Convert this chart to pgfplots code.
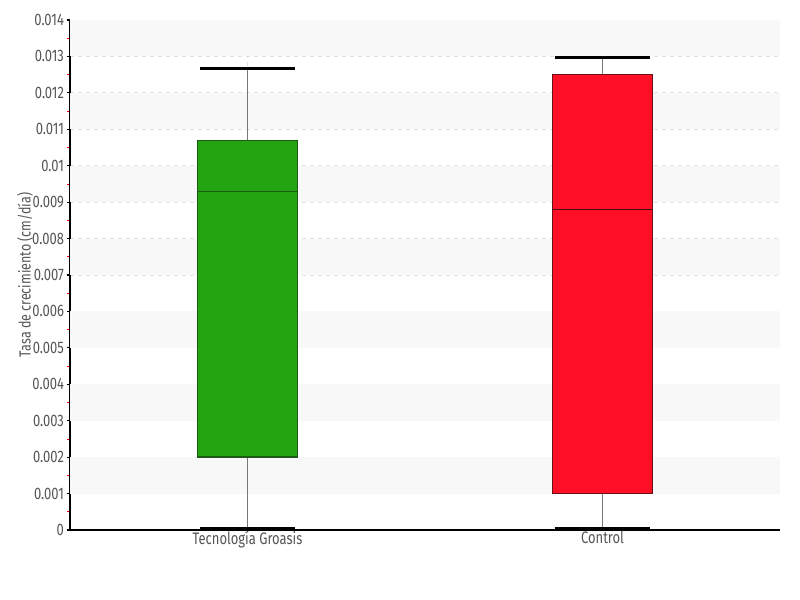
\documentclass[border=0pt]{standalone}
\usepackage{pgfplots}
\pgfplotsset{compat=1.18}
\usepgfplotslibrary{statistics}
\usepackage{fontspec}
\setmainfont{Fira Sans}[FakeStretch=0.78]
\definecolor{txt}{HTML}{555555}
\definecolor{band}{HTML}{F8F8F8}
\definecolor{gridc}{HTML}{E2E2E2}
\definecolor{gfill}{HTML}{22A511}
\definecolor{gedge}{HTML}{1E5A14}
\definecolor{rfill}{HTML}{FF0F26}
\definecolor{redge}{HTML}{6A1018}
\definecolor{wline}{HTML}{777777}
\begin{document}
\begin{tikzpicture}
\useasboundingbox (0,0) rectangle (600pt,450pt);
\begin{axis}[
  at={(52.5pt,52.5pt)}, anchor=south west,
  scale only axis, width=532.5pt, height=382.5pt,
  xmin=-0.5, xmax=1.5, ymin=0, ymax=0.014,
  axis x line*=bottom, axis y line*=left,
  axis line style={black, line width=0.8pt},
  xtick={0,1}, xticklabels={Tecnología Groasis, Control},
  ytick={0,0.001,0.002,0.003,0.004,0.005,0.006,0.007,0.008,0.009,0.01,0.011,0.012,0.013,0.014},
  yticklabels={0,0.001,0.002,0.003,0.004,0.005,0.006,0.007,0.008,0.009,0.01,0.011,0.012,0.013,0.014},
  scaled y ticks=false,
  minor y tick num=1,
  tick align=outside,
  major tick length=2.5pt, minor tick length=2pt,
  every major tick/.style={black, line width=0.8pt},
  every minor tick/.style={red, line width=0.6pt},
  major x tick style={draw=none},
  ticklabel style={font=\fontsize{12.5}{14}\selectfont, text=txt},
  yticklabel style={xshift=1.5pt},
  xticklabel style={yshift=5pt},
  ymajorgrids, xmajorgrids,
  major grid style={gridc, dashed, line width=0.6pt},
  ylabel={Tasa de crecimiento (cm/día)},
  ylabel style={font=\fontsize{12}{14}\selectfont, text=txt, at={(axis description cs:-0.0634,0.5)}, anchor=center},
  clip=false,
  boxplot/draw direction=y,
  boxplot/box extend=0.28,
  boxplot/whisker extend=0.27,
  boxplot/draw/lower whisker/.code={
    \draw[wline, line width=1.4pt] (boxplot cs:\pgfplotsboxplotvalue{lower whisker}) -- (boxplot cs:\pgfplotsboxplotvalue{lower quartile});
    \draw[black, line width=2.3pt] (boxplot whisker cs:\pgfplotsboxplotvalue{lower whisker},0) -- (boxplot whisker cs:\pgfplotsboxplotvalue{lower whisker},1);
  },
  boxplot/draw/upper whisker/.code={
    \draw[wline, line width=1.4pt] (boxplot cs:\pgfplotsboxplotvalue{upper whisker}) -- (boxplot cs:\pgfplotsboxplotvalue{upper quartile});
    \draw[black, line width=2.3pt] (boxplot whisker cs:\pgfplotsboxplotvalue{upper whisker},0) -- (boxplot whisker cs:\pgfplotsboxplotvalue{upper whisker},1);
  },
]
\pgfplotsinvokeforeach{1,3,5,7,9,11,13}{
  \fill[band] (axis cs:-0.5,#1/1000) rectangle (axis cs:1.5,#1/1000+0.001);
}
\addplot[boxplot prepared={lower whisker=0.00005, lower quartile=0.002, median=0.0093, upper quartile=0.0107, upper whisker=0.01268, draw position=0},
  boxplot/every box/.style={draw=gedge, fill=gfill, line width=1pt},
  boxplot/every median/.style={draw=gedge, line width=1pt}] coordinates {};
\addplot[boxplot prepared={lower whisker=0.00005, lower quartile=0.001, median=0.0088, upper quartile=0.0125, upper whisker=0.01296, draw position=1},
  boxplot/every box/.style={draw=redge, fill=rfill, line width=1pt},
  boxplot/every median/.style={draw=redge!70!black, line width=1pt}] coordinates {};
\end{axis}
\end{tikzpicture}
\end{document}
